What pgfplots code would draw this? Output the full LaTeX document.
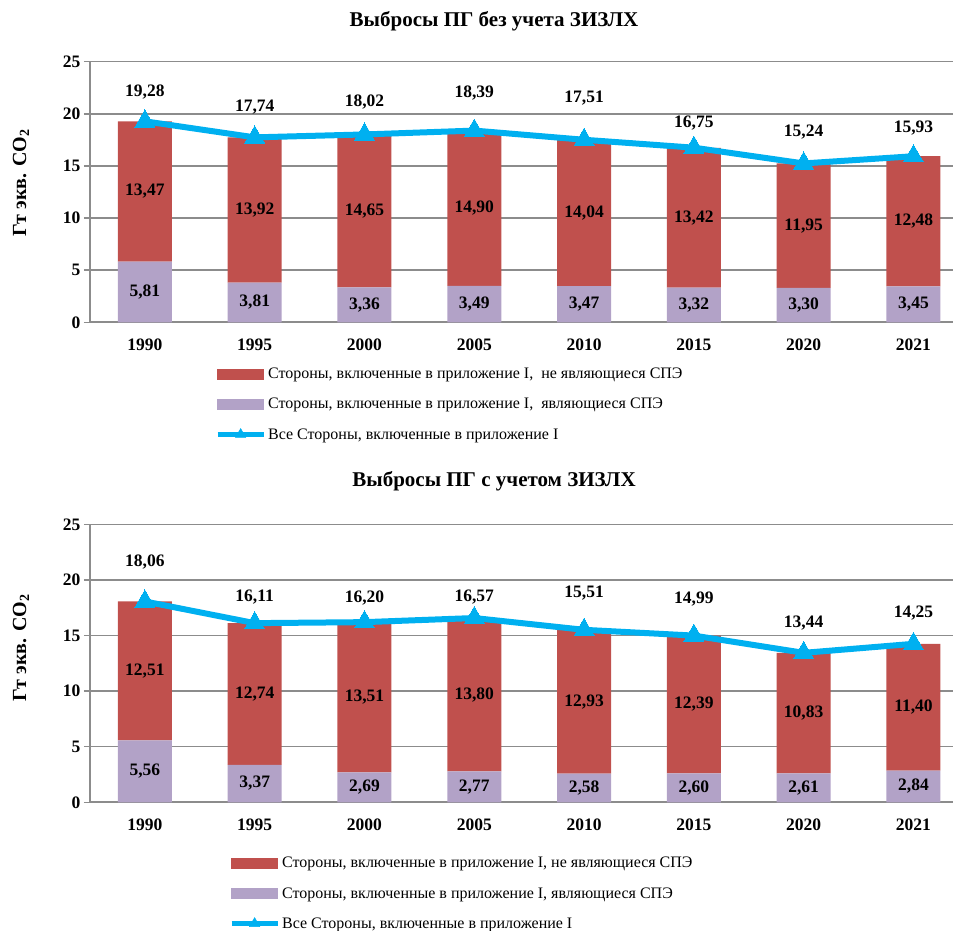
\documentclass[border=0pt]{standalone}
\usepackage{fontspec}
\setmainfont{Liberation Serif}
\usepackage{pgfplots}
\pgfplotsset{compat=1.18}
\usepackage{pgfplotstable}
\definecolor{redbar}{HTML}{C0504D}
\definecolor{purplebar}{HTML}{B2A2C7}
\definecolor{linec}{HTML}{00B0F0}
\definecolor{gridc}{HTML}{8C8C8C}

\pgfplotstableread{
x a b tot off
0 5.81 13.47 19.28 29.7
1 3.81 13.92 17.74 30.7
2 3.36 14.65 18.02 32.2
3 3.49 14.90 18.39 38.0
4 3.47 14.04 17.51 41.5
5 3.32 13.42 16.75 24.5
6 3.30 11.95 15.24 31.8
7 3.45 12.48 15.93 28.0
}\dataTop

\pgfplotstableread{
x a b tot off
0 5.56 12.51 18.06 39.8
1 3.37 12.74 16.11 26.5
2 2.69 13.51 16.20 23.9
3 2.77 13.80 16.57 21.3
4 2.58 12.93 15.51 36.5
5 2.60 12.39 14.99 36.3
6 2.61 10.83 13.44 30.1
7 2.84 11.40 14.25 30.8
}\dataBot

\newcommand\lbl{\bfseries\fontsize{17.5pt}{20pt}\selectfont}
\newcommand\tkl{\bfseries\fontsize{17.5pt}{20pt}\selectfont}
\newcommand\lgd{\fontsize{16pt}{19pt}\selectfont}
\newcommand\ttl{\bfseries\fontsize{21pt}{24pt}\selectfont}

\pgfplotsset{
  base/.style={
    scale only axis, width=863pt,
    xmin=-0.5, xmax=7.36, ymin=0, ymax=25,
    xtick={0,...,7},
    xticklabels={1990,1995,2000,2005,2010,2015,2020,2021},
    ytick={0,5,10,15,20,25},
    /pgf/number format/.cd, use comma, fixed, fixed zerofill, precision=2, assume math mode=true, 1000 sep={},
  },
  bars/.style={
    base, ybar stacked, bar width=54pt,
    axis x line*=bottom, axis y line*=left,
    axis line style={-, draw=gridc, line width=1.6pt},
    ymajorgrids, grid style={draw=gridc, line width=1.4pt},
    xtick style={draw=none},
    ytick style={draw=gridc, line width=1.4pt},
    tick align=outside, major tick length=6pt,
    ticklabel style={font=\tkl},
    xticklabel style={yshift=-7pt},
    yticklabel style={/pgf/number format/.cd, fixed, precision=0},
    legend cell align=left,
    legend style={draw=none, fill=none, inner sep=0pt, font=\lgd,
      row sep=14pt, /tikz/every even column/.append style={column sep=3pt}},
  },
  segs/.style={
    draw=none, forget plot, nodes near coords,
    point meta=\thisrow{#1},
    every node near coord/.style={font=\lbl, text=black, anchor=center},
  },
  tline/.style={
    base, hide axis, clip=false,
  },
  totplot/.style={
    linec, line width=6pt, mark=triangle*, mark size=11.5pt,
    mark options={line width=0pt, fill=linec, draw=linec},
    nodes near coords, point meta=\thisrow{tot},
    visualization depends on=\thisrow{off} \as \off,
    every node near coord/.style={font=\lbl, text=black, anchor=center, yshift=\off pt},
  },
}

\begin{document}
\begin{tikzpicture}
\useasboundingbox (0pt,0pt) rectangle (953pt,931pt);

% ---------- top chart ----------
\node[font=\ttl] at (494pt,909.3pt) {Выбросы ПГ без учета ЗИЗЛХ};
\node[rotate=90, font=\bfseries\fontsize{20pt}{23pt}\selectfont] at (21pt,748pt) {Гт экв. CO\textsubscript{2}};
\begin{axis}[bars, at={(90pt,608.7pt)}, anchor=south west, height=260.6pt,
  legend style={at={(0.1448,-0.168)}, anchor=north west}]
  \addlegendimage{legend image code/.code={\fill[redbar] (0pt,-5pt) rectangle (46pt,5pt);}}
  \addlegendentry{Стороны, включенные в приложение I,\ \ не являющиеся СПЭ}
  \addlegendimage{legend image code/.code={\fill[purplebar] (0pt,-5pt) rectangle (46pt,5pt);}}
  \addlegendentry{Стороны, включенные в приложение I,\ \ являющиеся СПЭ}
  \addlegendimage{legend image code/.code={\draw[linec, line width=5pt] (0pt,0pt) -- (46pt,0pt); \fill[linec] (23pt,0pt) +(90:6pt) -- +(210:6pt) -- +(330:6pt) -- cycle;}}
  \addlegendentry{Все Стороны, включенные в приложение I}
  \addplot[fill=purplebar, segs=a] table[x=x, y=a] {\dataTop};
  \addplot[fill=redbar, segs=b] table[x=x, y=b] {\dataTop};
\end{axis}
\begin{axis}[tline, at={(90pt,608.7pt)}, anchor=south west, height=260.6pt]
  \addplot[totplot] table[x=x, y=tot] {\dataTop};
\end{axis}

% ---------- bottom chart ----------
\node[font=\ttl] at (494pt,449.3pt) {Выбросы ПГ с учетом ЗИЗЛХ};
\node[rotate=90, font=\bfseries\fontsize{20pt}{23pt}\selectfont] at (21pt,283pt) {Гт экв. CO\textsubscript{2}};
\begin{axis}[bars, at={(90pt,128.7pt)}, anchor=south west, height=278pt,
  legend style={at={(0.161,-0.190)}, anchor=north west}]
  \addlegendimage{legend image code/.code={\fill[redbar] (0pt,-5pt) rectangle (46pt,5pt);}}
  \addlegendentry{Стороны, включенные в приложение I, не являющиеся СПЭ}
  \addlegendimage{legend image code/.code={\fill[purplebar] (0pt,-5pt) rectangle (46pt,5pt);}}
  \addlegendentry{Стороны, включенные в приложение I, являющиеся СПЭ}
  \addlegendimage{legend image code/.code={\draw[linec, line width=5pt] (0pt,0pt) -- (46pt,0pt); \fill[linec] (23pt,0pt) +(90:6pt) -- +(210:6pt) -- +(330:6pt) -- cycle;}}
  \addlegendentry{Все Стороны, включенные в приложение I}
  \addplot[fill=purplebar, segs=a] table[x=x, y=a] {\dataBot};
  \addplot[fill=redbar, segs=b] table[x=x, y=b] {\dataBot};
\end{axis}
\begin{axis}[tline, at={(90pt,128.7pt)}, anchor=south west, height=278pt]
  \addplot[totplot] table[x=x, y=tot] {\dataBot};
\end{axis}
\end{tikzpicture}
\end{document}
